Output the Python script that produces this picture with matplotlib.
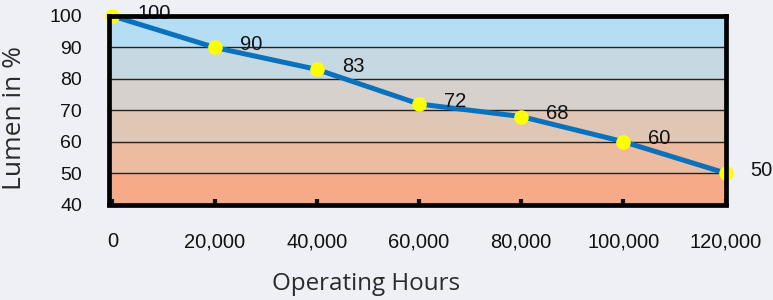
import numpy as np
import matplotlib
matplotlib.use("Agg")
import matplotlib.pyplot as plt
from matplotlib.ticker import FuncFormatter

# data
hours = [0, 20000, 40000, 60000, 80000, 100000, 120000]
lumen = [100, 90, 83, 72, 68, 60, 50]
band_edges = [40, 50, 60, 70, 80, 90, 100]
band_colors = ["#f6aa87", "#ecbba0", "#e0c7b5", "#d6d1cc", "#c6d8e1", "#b5def5"]
x_ticks = [0, 20000, 40000, 60000, 80000, 100000, 120000]
y_ticks = [40, 50, 60, 70, 80, 90, 100]

plt.rcParams["font.family"] = ["Liberation Sans", "DejaVu Sans"]
label_font = ["Open Sans", "DejaVu Sans"]

fig = plt.figure(figsize=(7.73, 3.0), dpi=100, facecolor="#eef0f5")
ax = fig.add_axes([108.5 / 773, 1 - 204.5 / 300, (725.5 - 108.5) / 773, (204.5 - 16) / 300])

for lo, hi, c in zip(band_edges[:-1], band_edges[1:], band_colors):
    ax.axhspan(lo, hi, color=c, lw=0, zorder=0)
for y in band_edges[1:-1]:
    ax.axhline(y, color="#222222", lw=1.0, zorder=1)

ax.plot(hours, lumen, color="#0a72bd", lw=3.6, zorder=3, solid_capstyle="round")
ax.plot(hours, lumen, "o", color="#ffff00", ms=10.5, mec="none", zorder=4, clip_on=False)

for h, v in zip(hours, lumen):
    ax.annotate(str(v), (h, v), xytext=(18, 2), textcoords="offset points",
                ha="left", va="center", fontsize=14.5, color="#111111",
                zorder=5, annotation_clip=False)

ax.set_xlim(-780, 120000)
ax.set_ylim(40, 100)
ax.set_xticks(x_ticks)
ax.xaxis.set_major_formatter(FuncFormatter(lambda v, p: f"{int(v):,}"))
ax.set_yticks(y_ticks)
ax.tick_params(axis="x", direction="in", length=4, width=3, pad=20, labelsize=14.5, colors="#111111")
ax.tick_params(axis="y", length=0, pad=19, labelsize=14, colors="#111111")
for s in ax.spines.values():
    s.set_linewidth(3.4)
    s.set_color("black")
    s.set_zorder(6)

ax.set_xlabel("Operating Hours", fontsize=17.4, color="#2a2a2a", family=label_font)
ax.xaxis.set_label_coords((366 - 108.5) / 617, -(290 - 204.5) / 188.5)
ax.xaxis.label.set_va("baseline")
ax.set_ylabel("Lumen in %", fontsize=19, color="#2a2a2a", family=label_font)
ax.yaxis.set_label_coords((27 - 108.5) / 617, (204.5 - 117.5) / 188.5)

fig.savefig("out.png", dpi=100, facecolor=fig.get_facecolor())
